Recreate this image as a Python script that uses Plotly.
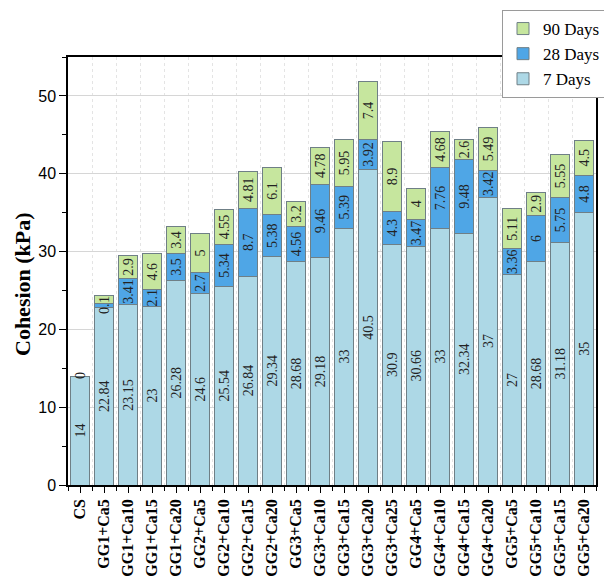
import plotly.graph_objects as go

categories = ["CS", "GG1+Ca5", "GG1+Ca10", "GG1+Ca15", "GG1+Ca20", "GG2+Ca5", "GG2+Ca10",
              "GG2+Ca15", "GG2+Ca20", "GG3+Ca5", "GG3+Ca10", "GG3+Ca15", "GG3+Ca20", "GG3+Ca25",
              "GG4+Ca5", "GG4+Ca10", "GG4+Ca15", "GG4+Ca20", "GG5+Ca5", "GG5+Ca10", "GG5+Ca15",
              "GG5+Ca20"]
days7 = [14, 22.84, 23.15, 23, 26.28, 24.6, 25.54, 26.84, 29.34, 28.68, 29.18, 33, 40.5, 30.9,
         30.66, 33, 32.34, 37, 27, 28.68, 31.18, 35]
days28 = [0, 0.5, 3.41, 2.1, 3.5, 2.7, 5.34, 8.7, 5.38, 4.56, 9.46, 5.39, 3.92, 4.3,
          3.47, 7.76, 9.48, 3.42, 3.36, 6, 5.75, 4.8]
days90 = [0, 1, 2.9, 4.6, 3.4, 5, 4.55, 4.81, 6.1, 3.2, 4.78, 5.95, 7.4, 8.9,
          4, 4.68, 2.6, 5.49, 5.11, 2.9, 5.55, 4.5]
y_ticks = [0, 10, 20, 30, 40, 50]
y_title = "Cohesion (kPa)"

xpos = list(range(len(categories)))
SERIF = "Liberation Serif, Times New Roman, serif"
SANS = "Liberation Sans, Arial, sans-serif"
edge = dict(color="#6f7f86", width=1)

# page body has an 8px offset; plot area in page pixels: x 68..596, y 57..485
OFF = 8
L, R, T, B = 68 - OFF, 596 - OFF, 57 - OFF, 485 - OFF
W, H = 612, 578


def labels(vals):
    return ["" if v == 0 else f"{v:g}" for v in vals]


fig = go.Figure()
series = [("7 Days", days7, "#ADD8E6"), ("28 Days", days28, "#4FA6E6"), ("90 Days", days90, "#C6E69E")]
for name, vals, col in series:
    fig.add_trace(go.Bar(
        x=xpos, y=vals, name=name, marker=dict(color=col, line=edge),
        text=labels(vals), textposition="inside", insidetextanchor="middle", textangle=-90,
        textfont=dict(family=SERIF, size=14, color="#222222"), width=0.8,
    ))

# label for zero-height 28-day segment
for i, v in enumerate(days28):
    if v == 0:
        fig.add_annotation(x=xpos[i], y=days7[i] + v, text=f"{v:g}", textangle=-90, showarrow=False,
                           font=dict(family=SERIF, size=14, color="#222222"), yanchor="middle")

# y-axis title (placed like the reference, slightly below the axis centre)
fig.add_annotation(xref="paper", yref="paper", x=(22 - OFF - L) / (R - L), y=(B - (284 - OFF)) / (B - T),
                   text=f"<b>{y_title}</b>", textangle=-90, showarrow=False,
                   xanchor="center", yanchor="middle",
                   font=dict(family=SERIF, size=22, color="black"))

fig.update_layout(
    barmode="stack",
    width=W, height=H,
    margin=dict(l=L, r=W - R, t=T, b=H - B, autoexpand=False),
    plot_bgcolor="white", paper_bgcolor="white",
    uniformtext=dict(minsize=14, mode="show"),
    legend=dict(x=(502 - OFF - L) / (R - L), y=(B - 2) / (B - T),
                xanchor="left", yanchor="top",
                traceorder="reversed", bgcolor="white", bordercolor="#9a9a9a", borderwidth=1,
                font=dict(family=SERIF, size=17, color="black"), itemwidth=30,
                tracegroupgap=0),
    xaxis=dict(
        range=[-0.5, len(categories) - 0.5], tickmode="array", tickvals=xpos, ticktext=categories,
        tickangle=-90, tickfont=dict(family=SERIF, size=16, color="black", weight="bold"),
        showline=True, linecolor="black", linewidth=1.5, mirror=True,
        ticks="outside", ticklen=6, tickcolor="black", showgrid=False, zeroline=False,
        minor=dict(tick0=0.5, dtick=1, ticks="outside", ticklen=4, tickcolor="black",
                   showgrid=True, gridcolor="#e4e4e4", griddash="dot"),
    ),
    yaxis=dict(
        range=[0, 55], tickmode="array", tickvals=y_ticks,
        tickfont=dict(family=SANS, size=16, color="black"),
        showline=True, linecolor="black", linewidth=1.5, mirror=True,
        ticks="outside", ticklen=7, tickcolor="black",
        showgrid=True, gridcolor="#d6d6d6", zeroline=False,
        minor=dict(tick0=5, dtick=10, ticks="outside", ticklen=4, tickcolor="black", showgrid=False),
    ),
)

fig.write_html("out.html")
